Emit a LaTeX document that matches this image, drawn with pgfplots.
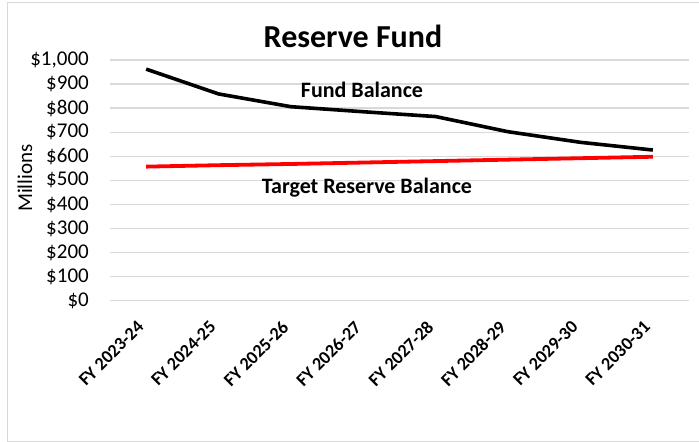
\documentclass[border=0pt]{standalone}
\usepackage{pgfplots}
\pgfplotsset{compat=1.18}
\usepackage{fontspec}
\setmainfont{Carlito}
\definecolor{gridgray}{RGB}{217,217,217}
\definecolor{bordergray}{RGB}{217,217,217}
\definecolor{linered}{RGB}{255,0,0}
\begin{document}
\begin{tikzpicture}
\path[use as bounding box] (0,0) rectangle (699bp,442bp);
\draw[bordergray, line width=1bp] (700bp,439bp) -- (7bp,439bp) -- (7bp,1bp) -- (700bp,1bp);
\begin{axis}[
  at={(110bp,141.3bp)}, anchor=south west,
  scale only axis, width=579bp, height=240.7bp,
  xmin=-0.5, xmax=7.5, ymin=0, ymax=1000,
  xtick={0,1,2,3,4,5,6,7},
  xticklabels={FY 2023-24,FY 2024-25,FY 2025-26,FY 2026-27,FY 2027-28,FY 2028-29,FY 2029-30,FY 2030-31},
  ytick={0,100,200,300,400,500,600,700,800,900,1000},
  yticklabels={{\$0},{\$100},{\$200},{\$300},{\$400},{\$500},{\$600},{\$700},{\$800},{\$900},{\$1,000}},
  ymajorgrids, grid style={draw=gridgray, line width=1.3bp},
  axis line style={draw=none},
  major tick length=0pt,
  xticklabel style={xshift=-10bp, yshift=-19bp, font=\bfseries\fontsize{18.2bp}{22bp}\selectfont, inner sep=0pt, rotate=45, anchor=north east},
  yticklabel style={xshift=-21bp, font=\fontsize{21bp}{25bp}\selectfont, inner sep=0pt, anchor=east},
  clip=false,
]
\addplot[black, line width=3.6bp, line join=round] coordinates {
(0,962) (1,859) (2,806) (3,785) (4,765) (5,702) (6,658) (7,626)};
\addplot[linered, line width=3.8bp, line join=round] coordinates {
(0,557) (1,563) (2,568) (3,574) (4,580) (5,586) (6,592) (7,598)};
\end{axis}
\node[anchor=base, font=\bfseries\fontsize{32bp}{38bp}\selectfont, inner sep=0pt] at (353bp,394.7bp) {Reserve Fund};
\node[anchor=base, font=\bfseries\fontsize{22bp}{26bp}\selectfont, inner sep=0pt] at (362bp,344.5bp) {Fund Balance};
\node[anchor=base, font=\bfseries\fontsize{22bp}{26bp}\selectfont, inner sep=0pt] at (367bp,248.5bp) {Target Reserve Balance};
\node[rotate=90, font=\fontsize{21bp}{25bp}\selectfont, inner sep=0pt] at (25bp,264bp) {Millions};
\end{tikzpicture}
\end{document}
